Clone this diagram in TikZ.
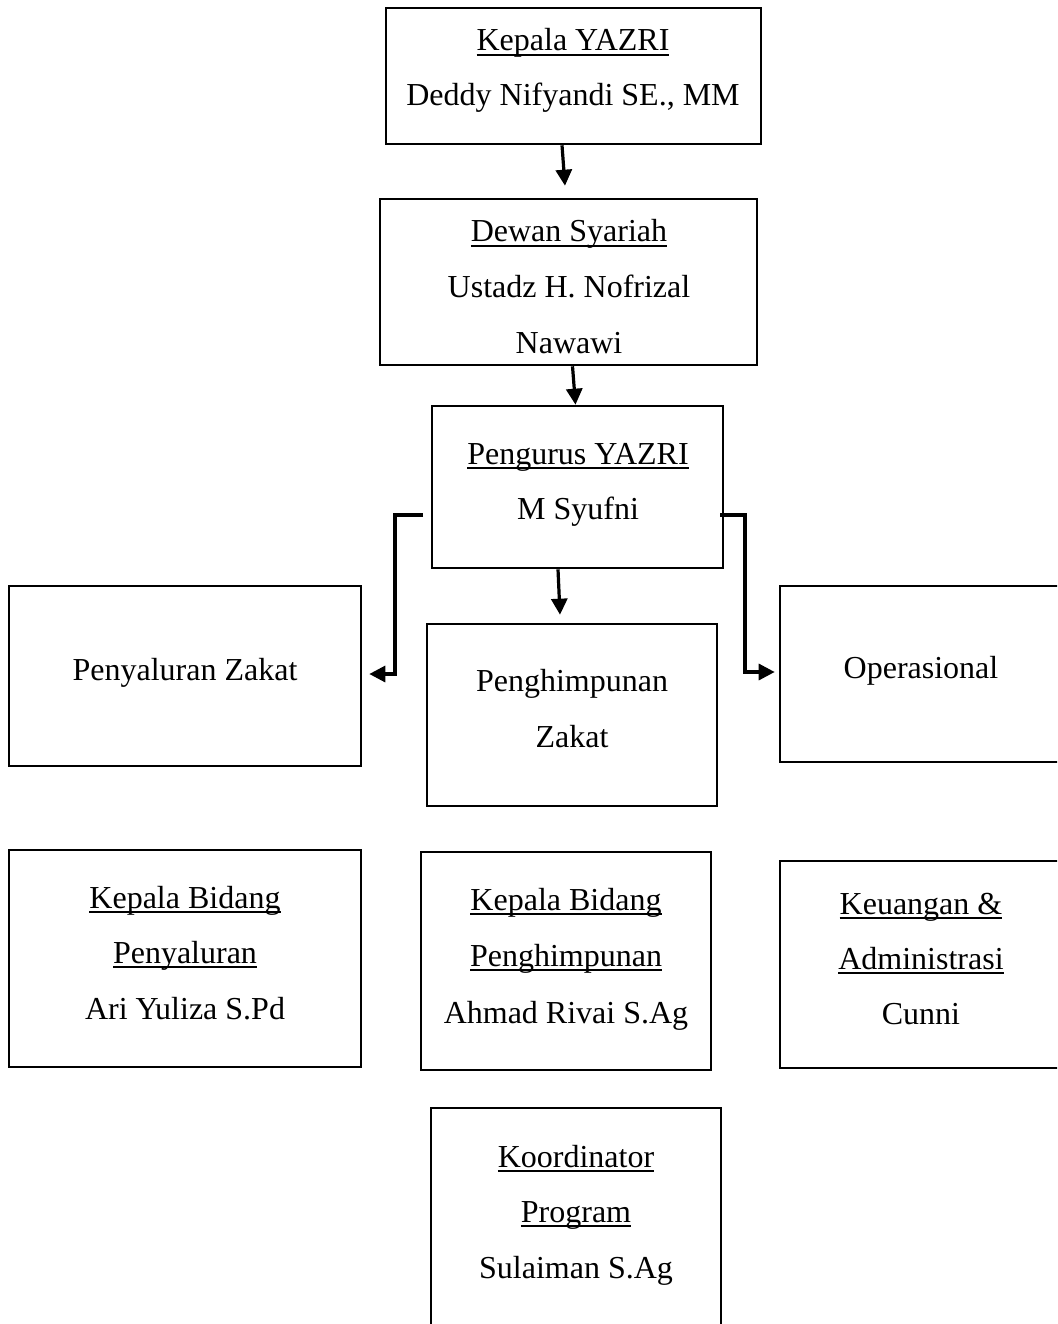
\documentclass[tikz,border=0pt]{standalone}
\usepackage{fontspec}
\setmainfont{Liberation Serif}
\usetikzlibrary{arrows.meta}
\newcommand\myul[1]{\setbox0\hbox{#1}\rlap{\rule[-5pt]{\wd0}{2pt}}\box0}
\begin{document}
\begin{tikzpicture}[x=1pt,y=-1pt,
  box/.style={draw,line width=2.6pt,inner sep=0pt},
  txt/.style={anchor=base,inner sep=0pt,font=\fontsize{32}{38}\selectfont},
  conn/.style={line width=3.2pt,-{Triangle[length=16pt,width=16pt]}}]
\clip (0,0) rectangle (1057,1324);
% boxes
\node[box,minimum width=375pt,minimum height=136pt] (kepala) at (573.5,76) {};
\node[box,minimum width=377pt,minimum height=166pt] (dewan) at (568.5,282) {};
\node[box,minimum width=291pt,minimum height=162pt] (pengurus) at (577.5,487) {};
\node[box,minimum width=352pt,minimum height=180pt] (penyaluran) at (185,676) {};
\node[box,minimum width=290pt,minimum height=182pt] (penghimpunan) at (572,715) {};
\node[box,minimum width=300pt,minimum height=176pt] (operasional) at (930,674) {};
\node[box,minimum width=352pt,minimum height=217pt] (kbpenyaluran) at (185,958.5) {};
\node[box,minimum width=290pt,minimum height=218pt] (kbpenghimpunan) at (566,961) {};
\node[box,minimum width=300pt,minimum height=207pt] (keuangan) at (930,964.5) {};
\node[box,minimum width=290pt,minimum height=240pt] (koordinator) at (576,1228) {};
% texts
\node[txt] (t1a) at (573,51) {\myul{Kepala YAZRI}};
\node[txt] (t1b) at (573,106) {Deddy Nifyandi SE., MM};
\node[txt] (t2a) at (569,242) {\myul{Dewan Syariah}};
\node[txt] (t2b) at (569,297) {Ustadz H. Nofrizal};
\node[txt] (t2c) at (569,353) {Nawawi};
\node[txt] (t3a) at (578,464) {\myul{Pengurus YAZRI}};
\node[txt] (t3b) at (578,519) {M Syufni};
\node[txt] (t4a) at (185,680) {Penyaluran Zakat};
\node[txt] (t5a) at (572,691) {Penghimpunan};
\node[txt] (t5b) at (572,747) {Zakat};
\node[txt] (t6a) at (921,678) {Operasional};
\node[txt] (t7a) at (185,908) {\myul{Kepala Bidang}};
\node[txt] (t7b) at (185,963) {\myul{Penyaluran}};
\node[txt] (t7c) at (185,1019) {Ari Yuliza S.Pd};
\node[txt] (t8a) at (566,910) {\myul{Kepala Bidang}};
\node[txt] (t8b) at (566,966) {\myul{Penghimpunan}};
\node[txt] (t8c) at (566,1023) {Ahmad Rivai S.Ag};
\node[txt] (t9a) at (921,914) {\myul{Keuangan \&}};
\node[txt] (t9b) at (921,969) {\myul{Administrasi}};
\node[txt] (t9c) at (921,1024) {Cunni};
\node[txt] (t10a) at (576,1167) {\myul{Koordinator}};
\node[txt] (t10b) at (576,1222) {\myul{Program}};
\node[txt] (t10c) at (576,1278) {Sulaiman S.Ag};
% connectors
\draw[conn] ([xshift=-11.5pt]kepala.south) -- ([xshift=-3.5pt,yshift=12pt]dewan.north);
\draw[conn] ([xshift=4pt]dewan.south) -- ([xshift=-2pt]pengurus.north);
\draw[conn] ([xshift=-19.5pt]pengurus.south) -- ([xshift=-12pt,yshift=8pt]penghimpunan.north);
\coordinate (lstart) at (423,515);
\coordinate (rstart) at (720,515);
\draw[conn] (lstart) -- (395,515) |- ([xshift=7pt]penyaluran.east |- 0,674);
\draw[conn] (rstart) -- (745,515) |- ([xshift=-4pt]operasional.west |- 0,672);
\end{tikzpicture}
\end{document}
